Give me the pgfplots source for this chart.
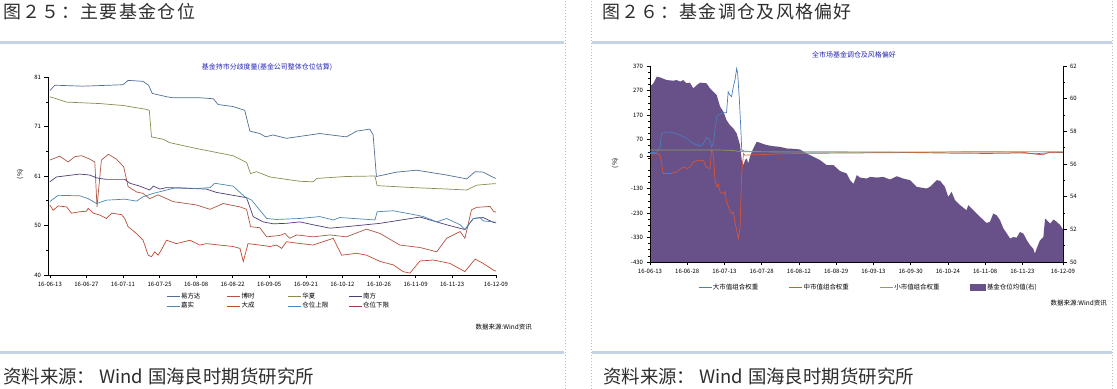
\documentclass[border=0pt]{standalone}
\usepackage{fontspec}
\setmainfont{Noto Sans CJK SC}
\usepackage{pgfplots}
\pgfplotsset{compat=1.18}
\definecolor{band}{RGB}{197,212,229}
\definecolor{sep}{RGB}{185,185,185}
\definecolor{ttl}{RGB}{35,35,180}
\definecolor{hdr}{RGB}{45,45,45}
\definecolor{cA}{RGB}{80,110,150}
\definecolor{cB}{RGB}{175,85,65}
\definecolor{cC}{RGB}{140,140,80}
\definecolor{cD}{RGB}{80,60,120}
\definecolor{cE}{RGB}{75,135,175}
\definecolor{cF}{RGB}{190,75,50}
\definecolor{cG}{RGB}{80,130,190}
\definecolor{cH}{RGB}{160,60,70}
\definecolor{cBig}{RGB}{75,125,185}
\definecolor{cMid}{RGB}{215,85,55}
\definecolor{cSmall}{RGB}{140,160,90}
\definecolor{cFund}{RGB}{104,80,137}
\newcommand\hb[1]{\makebox[19.3bp]{#1}}
\pgfplotsset{
  base/.style={scale only axis, axis line style={-,black,line width=0.6bp}, tick align=outside,
    major tick length=3.5bp, minor tick length=2bp, tick style={black,line width=0.5bp},
    tick label style={font=\fontsize{6}{7}\selectfont, text=black},
    /pgf/number format/assume math mode=true,
    legend cell align=left,
    every axis plot/.append style={line width=0.7bp}},
}
\begin{document}
\begin{tikzpicture}
\path[use as bounding box] (0bp,0bp) rectangle (1117bp,389bp);
% frame decorations
\fill[band] (0bp,345bp) rectangle (564bp,348bp);
\fill[band] (592bp,345bp) rectangle (1112bp,348bp);
\fill[band] (0bp,35bp) rectangle (564bp,38bp);
\fill[band] (592bp,35bp) rectangle (1112bp,38bp);
\draw[sep, line width=0.5bp, dash pattern=on 1.5bp off 1.5bp] (565.5bp,0bp) -- (565.5bp,389bp);
\draw[sep, line width=0.5bp, dash pattern=on 1.5bp off 1.5bp] (591.5bp,0bp) -- (591.5bp,389bp);
\draw[sep, line width=0.5bp, dash pattern=on 1.5bp off 1.5bp] (1112.5bp,0bp) -- (1112.5bp,389bp);
\node[anchor=west, inner sep=0pt, text=hdr, font=\fontsize{18}{18}\selectfont] at (2.5bp,377bp) {\hb{图}\hb{２}\hb{５}\hb{：}\hb{主}\hb{要}\hb{基}\hb{金}\hb{仓}\hb{位}};
\node[anchor=west, inner sep=0pt, text=hdr, font=\fontsize{18}{18}\selectfont] at (601.5bp,377bp) {\hb{图}\hb{２}\hb{６}\hb{：}\hb{基}\hb{金}\hb{调}\hb{仓}\hb{及}\hb{风}\hb{格}\hb{偏}\hb{好}};
\node[anchor=west, inner sep=0pt, text=hdr, font=\fontsize{18.5}{18.5}\selectfont] at (3bp,13bp) {\makebox[96bp][l]{资料来源：}Wind\hspace{5bp}国海良时期货研究所};
\node[anchor=west, inner sep=0pt, text=hdr, font=\fontsize{18.5}{18.5}\selectfont] at (603bp,13bp) {\makebox[96bp][l]{资料来源：}Wind\hspace{5bp}国海良时期货研究所};
% chart titles and sources
\node[inner sep=0pt, text=ttl, font=\fontsize{7}{8}\selectfont] at (267bp,322bp) {基金持市分歧度量(基金公司整体仓位估算)};
\node[inner sep=0pt, text=ttl, font=\fontsize{7}{8}\selectfont] at (854bp,334bp) {全市场基金调仓及风格偏好};
\node[anchor=east, inner sep=0pt, font=\fontsize{6.5}{7}\selectfont] at (532bp,62bp) {数据来源:Wind资讯};
\node[anchor=east, inner sep=0pt, font=\fontsize{6.5}{7}\selectfont] at (1107bp,86bp) {数据来源:Wind资讯};
\node[rotate=90, inner sep=0pt, font=\fontsize{6.5}{7}\selectfont] at (20bp,215bp) {(\%)};
\node[rotate=90, inner sep=0pt, font=\fontsize{6.5}{7}\selectfont] at (615bp,226bp) {(\%)};

% ================= LEFT CHART =================
\begin{axis}[base, at={(48bp,114bp)}, anchor=south west, width=448bp, height=198bp,
  xmin=-0.5, xmax=122, ymin=40, ymax=81,
  axis x line*=bottom, axis y line*=left,
  xtick={0,10,20,30,40,50,60,70,80,90,100,110,122},
  xticklabels={16-06-13,16-06-27,16-07-11,16-07-25,16-08-08,16-08-22,16-09-05,16-09-21,16-10-12,16-10-26,16-11-09,16-11-23,16-12-09},
  ytick={40,50.25,60.5,70.75,81}, yticklabels={40,50,61,71,81},
  minor ytick={45.125,55.375,65.625,75.875},
  legend columns=4,
  legend style={at={(0.257,-0.075)}, anchor=north west, draw=none, fill=none,
    font=\fontsize{6.5}{7}\selectfont, nodes={inner sep=1bp}, row sep=0.5bp},
  legend image code/.code={\draw[#1] (0bp,0bp) -- (13bp,0bp);},
]
\addplot[cA] coordinates {(0,78.2)(1.4,79.3)(9,79.1)(20,79.4)(21.4,80.3)(25.5,80.1)(27,79.3)(28,77.6)(32,76.9)(33.7,76.7)(41,76.7)(44.7,76.5)(46,75.3)(50,74.9)(53.3,74.1)(54.7,69.8)(57.4,69.3)(59,68.6)(61,69.0)(64.7,68.3)(68.4,68.7)(73.8,69.3)(81.1,68.6)(83.9,69.8)(87.5,70.2)(88.4,69.0)(89.3,60.4)(94.8,61.3)(100.3,61.7)(108.5,60.7)(114,59.9)(116.3,61.4)(118.5,61.3)(121.3,60.2)(122,60.0)};
\addlegendentry{\makebox[45bp][l]{易方达}}
\addplot[cB] coordinates {(0,63.8)(2.7,64.6)(5,63.4)(6.8,64.5)(8.7,64.7)(10.9,64.0)(12.3,63.4)(12.9,54.1)(14.1,63.8)(16,65.0)(18.2,64.0)(20.2,62.4)(21.4,58.3)(23.7,57.2)(25.5,56.9)(27.3,55.8)(29.6,56.6)(33.7,55.2)(40.1,54.5)(43.8,53.6)(47.4,54.8)(52,54.1)(53.8,53.6)(54.9,50.0)(57.4,49.8)(59.3,47.9)(62.9,48.2)(64.3,48.6)(65.6,47.6)(67.5,48.3)(72,47.9)(76.6,48.3)(81.1,47.9)(86.6,49.5)(90.3,48.6)(95.7,46.2)(101.2,45.7)(105.8,44.8)(108.5,47.6)(112.2,49.0)(113.5,47.6)(115.3,53.5)(116.7,54.0)(120.4,54.2)(121.3,53.2)(122,53.0)};
\addlegendentry{\makebox[45bp][l]{博时}}
\addplot[cC] coordinates {(0,76.9)(1.8,76.5)(4.6,75.8)(13.7,75.5)(20,75.1)(26.4,74.3)(27.2,74.1)(27.8,68.6)(31,68.1)(32.8,67.4)(40.1,66.2)(44.7,65.5)(50.1,64.7)(53.8,63.3)(54.9,61.0)(56.5,61.4)(60.2,60.3)(64.7,59.8)(68.4,59.4)(72,59.3)(73,60.0)(81.1,60.4)(88.9,60.5)(89.5,58.5)(99.4,58.1)(108.5,57.8)(114,57.6)(116.7,58.6)(121.3,58.9)(122,58.9)};
\addlegendentry{\makebox[45bp][l]{华夏}}
\addplot[cD] coordinates {(0,59.3)(1.8,60.3)(8.2,60.9)(10.9,60.7)(12.8,60.1)(15.5,59.8)(20.5,59.8)(21.9,59.0)(24.6,58.4)(27.3,57.6)(28.3,58.4)(30.1,57.8)(31.9,58.1)(39.2,57.9)(42.8,57.8)(45.6,57.1)(50.1,56.5)(53.8,56.0)(55.6,52.1)(58.3,51.0)(61.1,50.6)(64.7,50.7)(68.4,51.0)(72,50.4)(76.6,49.7)(81.1,50.0)(90.3,50.7)(101.2,52.0)(108.5,50.4)(113.5,49.4)(115.8,51.7)(118.5,51.9)(121.3,50.9)(122,50.8)};
\addlegendentry{\makebox[45bp][l]{南方}}
\addplot[cE] coordinates {(0,55.2)(2.3,56.5)(8.2,56.4)(10.5,55.8)(12.8,54.8)(15.5,55.5)(20.5,55.7)(23.7,55.3)(25.5,56.2)(28.3,56.9)(31.9,57.6)(34.6,58.1)(40.1,57.9)(43.8,58.1)(45.1,59.0)(50.1,58.4)(53.3,56.2)(55.2,55.5)(57,53.8)(59.3,51.7)(62,51.5)(68.4,51.7)(73.8,52.1)(77.5,51.4)(79.3,51.9)(88.9,51.4)(89.5,53.1)(93.9,53.3)(100.3,52.4)(102.1,52.1)(105.8,51.0)(108.5,51.7)(112.2,50.4)(113.5,49.4)(115.8,51.7)(117.6,51.9)(118.5,51.2)(121.3,51.0)(122,50.9)};
\addlegendentry{\makebox[45bp][l]{嘉实}}
\addplot[cF] coordinates {(0,54.5)(0.9,53.4)(2.3,54.3)(4.6,54.1)(5.9,52.8)(8.2,53.1)(10,53.2)(10.5,53.8)(11.9,52.8)(13.7,52.4)(15.5,51.7)(16.9,52.8)(19.6,52.5)(20.5,51.7)(21.4,50.0)(23.7,48.6)(25.5,47.2)(26.9,44.1)(27.8,43.8)(28.7,44.8)(29.6,44.1)(30.5,45.2)(31.9,47.2)(34.6,46.5)(38.3,47.2)(41,46.2)(42.8,46.5)(46.5,46.2)(50.1,45.9)(52,45.5)(52.9,42.8)(54.2,46.5)(57.4,46.2)(60.2,45.9)(62,46.2)(63.4,45.5)(64.7,46.9)(67.5,46.6)(72,46.2)(77.5,47.6)(79.8,44.1)(83.9,44.5)(86.6,44.1)(90.3,42.8)(93.9,42.1)(96.6,40.7)(98.5,40.4)(101.2,42.9)(104.9,43.1)(109.4,42.4)(113.5,40.7)(116.3,43.3)(118.5,42.4)(121.3,41.0)(122,40.8)};
\addlegendentry{\makebox[45bp][l]{大成}}
\addlegendimage{cG}
\addlegendentry{\makebox[45bp][l]{仓位上限}}
\addlegendimage{cH}
\addlegendentry{\makebox[45bp][l]{仓位下限}}
\end{axis}

% ================= RIGHT CHART: area on right axis =================
\begin{axis}[base, at={(650bp,127bp)}, anchor=south west, width=413bp, height=196bp,
  xmin=0, xmax=122, ymin=50, ymax=62,
  axis x line=none, axis y line*=right,
  ytick={50,52,54,56,58,60,62}, minor y tick num=1,
]
\addplot[fill=cFund, draw=none] coordinates {(0,60.73)(1,60.94)(2,61.35)(3,61.30)(4.9,61.14)(6.9,61.10)(7.9,61.14)(8.9,61.04)(9.8,61.14)(10.8,60.94)(11.8,60.98)(12.8,60.63)(13.8,60.83)(14.8,60.98)(16.7,60.94)(17.7,60.63)(18.7,60.43)(19.7,60.22)(20.7,59.51)(21.7,59.20)(22.6,58.69)(23.6,58.38)(24.6,58.18)(25.6,57.87)(26.6,57.16)(27.1,56.24)(27.6,55.93)(28.1,56.24)(28.6,56.34)(29.0,56.03)(29.5,56.44)(30.5,56.95)(31.5,57.36)(32.5,57.30)(33.5,57.22)(34.5,57.16)(36.4,57.09)(38.4,57.05)(40.4,56.95)(42.3,56.93)(44.3,56.89)(46.3,56.64)(48.3,56.44)(50.2,56.24)(52.2,55.93)(54.2,55.93)(56.1,55.57)(58.1,55.42)(59.1,55.01)(60.1,54.78)(61.1,55.32)(62.0,55.17)(64.0,55.11)(65.0,55.21)(67.0,55.17)(68.9,55.21)(70.9,55.05)(72.9,55.25)(74.8,55.11)(76.8,55.01)(78.8,54.60)(81.7,54.50)(82.7,54.60)(84.7,55.01)(85.7,54.97)(87.1,54.60)(88.1,53.99)(89.1,54.29)(90.1,53.78)(91.6,53.48)(93.5,53.17)(94.0,53.48)(95.5,53.17)(97.5,52.76)(99.4,52.39)(100.4,52.45)(101.4,52.97)(102.4,52.86)(103.4,52.56)(104.4,52.05)(105.4,51.74)(106.4,51.43)(107.3,51.53)(108.3,51.49)(109.3,51.84)(110.3,51.74)(111.3,51.33)(112.3,51.02)(113.2,50.82)(113.7,50.51)(114.2,50.82)(115.2,51.33)(116.2,51.53)(116.7,52.66)(117.2,52.56)(118.2,52.35)(119.2,52.60)(120.2,52.45)(121.2,52.25)(122.0,51.98)} \closedcycle;
\end{axis}

% ================= RIGHT CHART: lines on left axis =================
\begin{axis}[base, at={(650bp,127bp)}, anchor=south west, width=413bp, height=196bp,
  xmin=0, xmax=122, ymin=-430, ymax=370,
  axis x line*=bottom, axis y line*=left,
  xtick={0,11,22,33,44,55,66,77,88,99,110,122},
  xticklabels={16-06-13,16-06-28,16-07-13,16-07-28,16-08-12,16-08-29,16-09-13,16-09-30,16-10-24,16-11-08,16-11-23,16-12-09},
  ytick={370,270,170,70,0,-130,-230,-330,-430},
  minor ytick={345,320,295,245,220,195,145,120,95,45,20,-5,-55,-80,-105,-155,-180,-205,-255,-280,-305,-355,-380,-405},
  legend columns=4,
  legend style={at={(0.109,-0.095)}, anchor=north west, draw=none, fill=none,
    font=\fontsize{6.5}{7}\selectfont, nodes={inner sep=1bp}},
  legend image code/.code={\draw[#1] (0bp,0bp) -- (13bp,0bp);},
]
\addplot[cBig] coordinates {(0,16)(2,18)(3,40)(3.4,95)(4.9,101)(6.9,97)(8.9,88)(10.8,74)(12.8,54)(14.8,43)(15.8,54)(16.7,78)(17.7,67)(18.2,40)(18.7,54)(19.7,163)(20.2,170)(21.7,179)(22.6,179)(23.1,265)(23.6,251)(24.1,245)(24.6,285)(25.1,313)(25.6,360)(25.9,340)(26.4,231)(26.8,122)(27.1,27)(28,22)(35,20)(50,19)(70,18)(90,14)(100,13)(110,15)(114,12)(118,16)(122,17)};
\addlegendentry{\makebox[75bp][l]{大市值组合权重}}
\addplot[cMid] coordinates {(0,13)(2,13)(3,6)(3.9,-69)(5.9,-69)(7.9,-62)(9.8,-42)(10.8,-48)(11.8,-42)(12.8,-21)(14.8,-14)(15.8,-17)(16.7,-44)(17.7,-48)(18.2,27)(18.7,13)(19.2,-96)(19.7,-123)(20.2,-112)(20.7,-144)(21.7,-151)(22.2,-144)(22.6,-185)(23.6,-219)(24.1,-232)(24.6,-226)(25.1,-266)(25.6,-300)(26.1,-335)(26.6,-287)(27.1,-69)(27.6,13)(28,6)(32,8)(40,12)(50,14)(60,15)(70,16)(80,17)(90,19)(100,19)(110,18)(114,10)(116,8)(118,18)(122,18)};
\addlegendentry{\makebox[75bp][l]{中市值组合权重}}
\addplot[cSmall] coordinates {(0,27)(10,27)(20,27)(24,26)(26,22)(28,20)(40,19)(60,19)(80,19)(100,20)(110,20)(122,20)};
\addlegendentry{\makebox[75bp][l]{小市值组合权重}}
\addlegendimage{legend image code/.code={\fill[cFund] (0bp,-3bp) rectangle (15bp,3bp);}}
\addlegendentry{基金仓位均值(右)}
\end{axis}
\end{tikzpicture}
\end{document}
